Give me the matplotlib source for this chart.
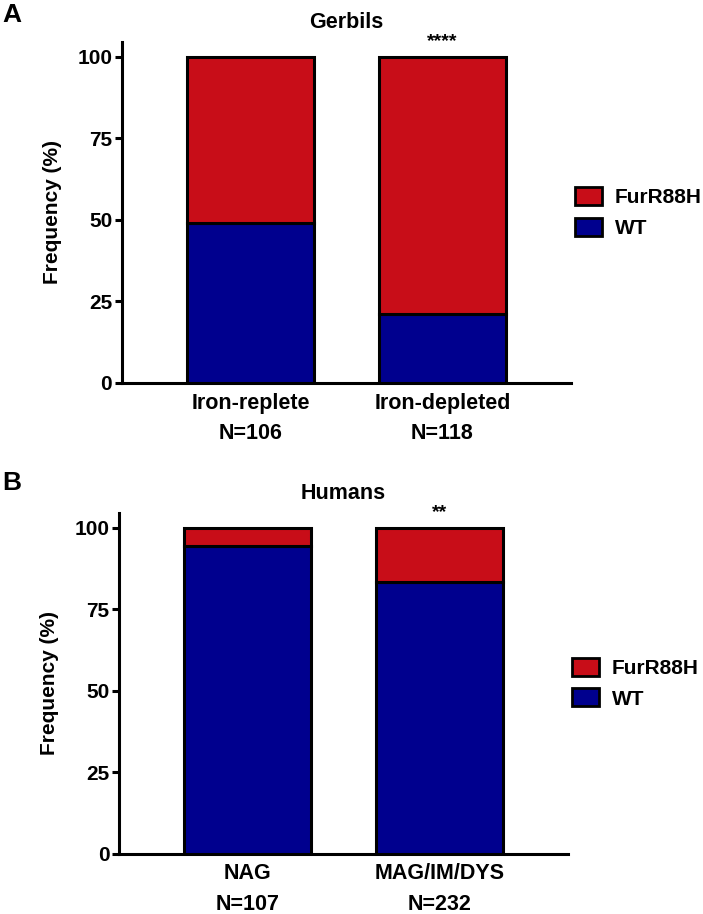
import matplotlib
matplotlib.use("Agg")
import matplotlib.pyplot as plt

plt.rcParams['font.family'] = ['Liberation Sans', 'DejaVu Sans']
plt.rcParams['font.weight'] = 'bold'

red = '#C80D18'
blue = '#00008E'

# panel A: gerbils
gerbil_groups = ["Iron-replete", "Iron-depleted"]
gerbil_n = [106, 118]
gerbil_wt = [49.1, 21.2]
gerbil_fur = [50.9, 78.8]
gerbil_sig = ["", "****"]

# panel B: humans
human_groups = ["NAG", "MAG/IM/DYS"]
human_n = [107, 232]
human_wt = [94.4, 83.2]
human_fur = [5.6, 16.8]
human_sig = ["", "**"]

yticks = [0, 25, 50, 75, 100]

fig = plt.figure(figsize=(7.03, 9.14), dpi=100)
axA = fig.add_axes([0.1735, 0.5810, 0.6387, 0.3731])
axB = fig.add_axes([0.1693, 0.0660, 0.6387, 0.3731])


def panel(ax, title, groups, n, wt, fur, sig):
    x = list(range(len(groups)))
    ax.bar(x, wt, width=0.66, color=blue, edgecolor='black', linewidth=2.2, label='WT', zorder=3)
    ax.bar(x, fur, width=0.66, bottom=wt, color=red, edgecolor='black', linewidth=2.2,
           label='FurR88H', zorder=3)
    ax.set_xlim(-0.669, 1.669)
    ax.set_ylim(0, 104.6)
    ax.set_yticks(yticks)
    ax.set_yticklabels([str(v) for v in yticks], fontsize=15, fontweight='bold')
    ax.set_xticks(x)
    ax.set_xticklabels([g + "\nN=" + str(k) for g, k in zip(groups, n)],
                       fontsize=15.5, fontweight='bold', linespacing=1.6)
    ax.tick_params(axis='x', length=0, pad=7)
    ax.tick_params(axis='y', length=5, width=2.2, pad=2)
    for s in ['top', 'right']:
        ax.spines[s].set_visible(False)
    for s in ['left', 'bottom']:
        ax.spines[s].set_linewidth(2.2)
        ax.spines[s].set_capstyle('projecting')
    ax.set_ylabel("Frequency (%)", fontsize=15, fontweight='bold')
    ax.yaxis.set_label_coords(-0.134, 0.5)
    ax.set_title(title, fontsize=15.5, fontweight='bold', pad=10)
    for xi, s in zip(x, sig):
        if s:
            ax.annotate(s, (xi, 100), xytext=(0, 5), textcoords='offset points',
                        ha='center', va='bottom', fontsize=14, fontweight='bold')
    h, l = ax.get_legend_handles_labels()
    leg = ax.legend(h[::-1], l[::-1], loc='center left', bbox_to_anchor=(1.009, 0.5),
                    frameon=False, borderaxespad=0, borderpad=0, handlelength=1.3,
                    handleheight=0.95, handletextpad=0.6, labelspacing=0.5,
                    prop={'size': 15, 'weight': 'bold'})
    for p in leg.get_patches():
        p.set_linewidth(2)


panel(axA, "Gerbils", gerbil_groups, gerbil_n, gerbil_wt, gerbil_fur, gerbil_sig)
panel(axB, "Humans", human_groups, human_n, human_wt, human_fur, human_sig)

fig.text(0.003, 1 - 15 / 914, "A", fontsize=19, fontweight='bold', va='center')
fig.text(0.003, 1 - 483 / 914, "B", fontsize=19, fontweight='bold', va='center')

fig.savefig("out.png", dpi=100)
